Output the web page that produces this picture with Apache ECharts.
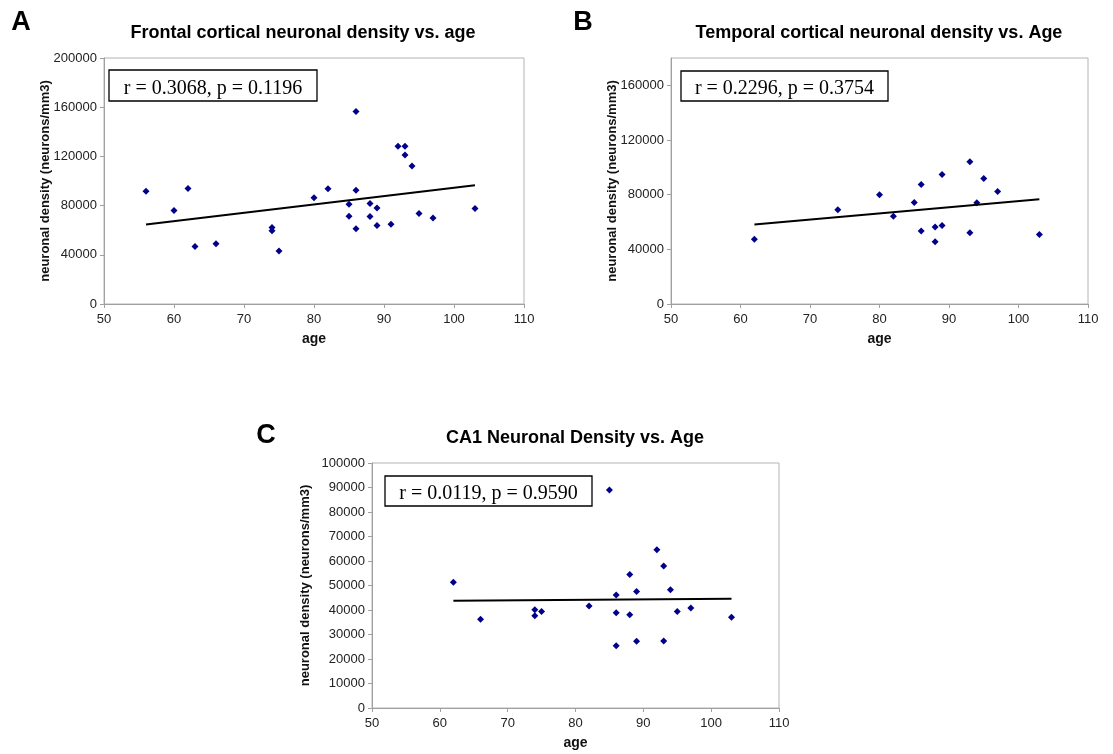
<!DOCTYPE html>
<html>
<head>
<meta charset="utf-8">
<script src="https://cdn.jsdelivr.net/npm/echarts@6/dist/echarts.min.js"></script>
<style>
  html, body { margin: 0; padding: 0; background: #fff; }
  #main { width: 1113px; height: 754px; }
</style>
</head>
<body>
<div id="main"></div>
<script>
// panel A - frontal cortex
var frontalAge = [56, 60, 62, 63, 66, 74, 74, 75, 80, 82, 85, 85, 86, 86, 86, 88, 88, 89, 89, 91, 92, 93, 93, 94, 95, 97, 103];
var frontalDensity = [91700, 76000, 93900, 46800, 48900, 62200, 59500, 43000, 86300, 93600, 81100, 71400, 156600, 92500, 61100, 81700, 71100, 78100, 63800, 64900, 128200, 128200, 121100, 112200, 73600, 70000, 77600];
var frontalTrend = [[56, 64700], [103, 96500]];

// panel B - temporal cortex
var temporalAge = [62, 74, 80, 82, 85, 86, 86, 88, 88, 89, 89, 93, 93, 94, 95, 97, 103];
var temporalDensity = [47400, 68900, 79900, 64200, 74200, 87400, 53500, 56400, 45500, 94700, 57400, 104000, 52100, 74000, 91800, 82300, 50800];
var temporalTrend = [[62, 58100], [103, 76600]];

// panel C - CA1
var ca1Age = [62, 66, 74, 74, 75, 82, 85, 86, 86, 86, 88, 88, 89, 89, 92, 93, 93, 94, 95, 97, 103];
var ca1Density = [51300, 36200, 40100, 37700, 39400, 41600, 89000, 46100, 38900, 25400, 54500, 38100, 47600, 27200, 64600, 58000, 27300, 48300, 39400, 40800, 37000];
var ca1Trend = [[62, 43800], [103, 44600]];

var statsText = ['r = 0.3068, p = 0.1196', 'r = 0.2296, p = 0.3754', 'r = 0.0119, p = 0.9590'];
var titles = ['Frontal cortical neuronal density vs. age', 'Temporal cortical neuronal density vs. Age', 'CA1 Neuronal Density vs. Age'];

function pairs(xs, ys) {
  return xs.map(function (x, i) { return [x, ys[i]]; });
}

var font = 'Liberation Sans, Arial, sans-serif';
var grids = [
  { left: 104, top: 58, width: 420, height: 246 },
  { left: 671, top: 58, width: 417, height: 246 },
  { left: 372, top: 463, width: 407, height: 245 }
];

function plain(v) { return String(v); }

function xAxisFor(i) {
  return {
    gridIndex: i, type: 'value', min: 50, max: 110, interval: 10,
    name: 'age', nameLocation: 'middle', nameGap: 28,
    nameTextStyle: { fontFamily: font, fontWeight: 'bold', fontSize: 14, color: '#111' },
    axisLine: { show: true, lineStyle: { color: '#a0a0a0', width: 1 } },
    axisTick: { show: true, length: 4, lineStyle: { color: '#a0a0a0' } },
    axisLabel: { fontFamily: font, fontSize: 13, color: '#222', margin: 9, formatter: plain },
    splitLine: { show: false }
  };
}

function yAxisFor(i, max, interval, gap) {
  return {
    gridIndex: i, type: 'value', min: 0, max: max, interval: interval,
    name: 'neuronal density (neurons/mm3)', nameLocation: 'middle', nameGap: gap, nameRotate: 90,
    nameMoveOverlap: false,
    nameTextStyle: { fontFamily: font, fontWeight: 'bold', fontSize: 13, color: '#111' },
    axisLine: { show: true, lineStyle: { color: '#a0a0a0', width: 1 } },
    axisTick: { show: true, length: 4, lineStyle: { color: '#a0a0a0' } },
    axisLabel: { fontFamily: font, fontSize: 13, color: '#222', margin: 7, formatter: plain,
      showMaxLabel: max % interval === 0 },
    splitLine: { show: false }
  };
}

function scatter(i, xs, ys) {
  return {
    type: 'scatter', xAxisIndex: i, yAxisIndex: i,
    symbol: 'diamond', symbolSize: 7,
    itemStyle: { color: '#00008b', opacity: 1 },
    data: pairs(xs, ys)
  };
}

function trend(i, pts) {
  return {
    type: 'line', xAxisIndex: i, yAxisIndex: i,
    symbol: 'none', silent: true,
    lineStyle: { color: '#000', width: 2 },
    data: pts
  };
}

// text box: [x, y, w, h]
var boxes = [[109, 70, 208, 31], [681, 71, 207, 30], [385, 476, 207, 30]];

var graphics = [];
boxes.forEach(function (b, i) {
  graphics.push({
    type: 'rect', shape: { x: b[0], y: b[1], width: b[2], height: b[3] },
    style: { fill: '#fff', stroke: '#000', lineWidth: 1.3 }, z: 10
  });
  graphics.push({
    type: 'text', x: b[0] + b[2] / 2, y: b[1] + b[3] / 2 + 3,
    style: { text: statsText[i], fontFamily: 'Liberation Serif, Times New Roman, serif', fontSize: 20,
      fill: '#000', textAlign: 'center', textVerticalAlign: 'middle' }, z: 11
  });
});

var titlePos = [[303, 33], [879, 33], [575, 438]];
titles.forEach(function (t, i) {
  graphics.push({
    type: 'text', x: titlePos[i][0], y: titlePos[i][1],
    style: { text: t, fontFamily: font, fontWeight: 'bold', fontSize: 18, fill: '#000',
      textAlign: 'center', textVerticalAlign: 'middle' }
  });
});

var letters = ['A', 'B', 'C'];
var letterPos = [[21, 23], [583, 23], [266, 436]];
letters.forEach(function (l, i) {
  graphics.push({
    type: 'text', x: letterPos[i][0], y: letterPos[i][1],
    style: { text: l, fontFamily: font, fontWeight: 'bold', fontSize: 27, fill: '#000',
      textAlign: 'center', textVerticalAlign: 'middle' }
  });
});

var chart = echarts.init(document.getElementById('main'));
chart.setOption({
  animation: false,
  backgroundColor: '#fff',
  grid: grids.map(function (g) {
    return Object.assign({ show: true, borderColor: '#b4b4b4', borderWidth: 1, backgroundColor: 'transparent' }, g);
  }),
  xAxis: [xAxisFor(0), xAxisFor(1), xAxisFor(2)],
  yAxis: [
    yAxisFor(0, 200000, 40000, 52),
    yAxisFor(1, 180000, 40000, 52),
    yAxisFor(2, 100000, 10000, 60)
  ],
  series: [
    trend(0, frontalTrend), scatter(0, frontalAge, frontalDensity),
    trend(1, temporalTrend), scatter(1, temporalAge, temporalDensity),
    trend(2, ca1Trend), scatter(2, ca1Age, ca1Density)
  ],
  graphic: graphics
});
</script>
</body>
</html>
